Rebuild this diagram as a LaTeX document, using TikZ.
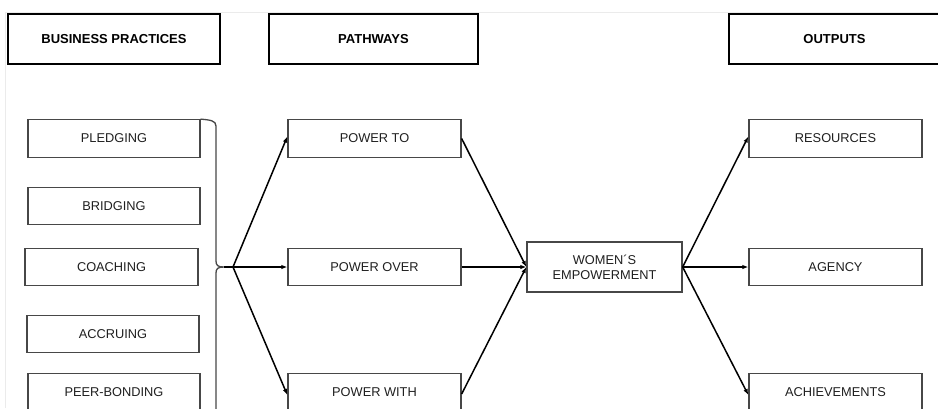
\documentclass[tikz,border=0pt]{standalone}
\usepackage{fontspec}
\setmainfont{Liberation Sans}
\usetikzlibrary{arrows.meta}
\begin{document}
\begin{tikzpicture}[x=1pt,y=-1pt,
  hdr/.style={draw=black,line width=1.8pt,minimum height=50pt,inner sep=0pt,
    font=\fontsize{13}{15}\selectfont\bfseries,text=black},
  box/.style={draw=black!72,line width=1.3pt,minimum width=173pt,minimum height=37.5pt,inner sep=0pt,
    font=\fontsize{12.8}{15}\selectfont,text=black!88},
  conn/.style={line width=1.5pt,black},
  arr/.style={conn,-{Latex[length=6pt,width=4.5pt]}},
  brace/.style={line width=1.3pt,black!72}]
\useasboundingbox (0,0) rectangle (938,408);
\clip (0,0) rectangle (938,408);
% faint frame
\draw[black!8,line width=0.8pt] (5,408) -- (5,12.5) -- (938,12.5);
% headers
\node[hdr,minimum width=212pt] (hbp) at (114,39) {BUSINESS PRACTICES};
\node[hdr,minimum width=209pt] (hpw) at (373.5,39) {PATHWAYS};
\node[hdr,minimum width=211pt] (hout) at (834.5,39) {OUTPUTS};
% business practices
\node[box,minimum width=172pt] (b1) at (114,138.5) {PLEDGING};
\node[box,minimum width=172pt] (b2) at (114,206) {BRIDGING};
\node[box] (b3) at (111.5,267) {COACHING};
\node[box,minimum width=172pt] (b4) at (113,334) {ACCRUING};
\node[box,minimum width=172pt] (b5) at (114,392) {PEER-BONDING};
% pathways
\node[box] (p1) at (374.5,138.5) {POWER TO};
\node[box] (p2) at (374.5,267) {POWER OVER};
\node[box] (p3) at (374.5,392) {POWER WITH};
% women's empowerment
\node[box,minimum width=155pt,minimum height=50pt,align=center] (we) at (604.5,267) {WOMEN´S\\EMPOWERMENT};
% outputs
\node[box] (o1) at (835.5,138.5) {RESOURCES};
\node[box] (o2) at (835.5,267) {AGENCY};
\node[box] (o3) at (835.5,392) {ACHIEVEMENTS};
% brace
\coordinate (tip) at (233,267);
\draw[brace] (b1.north east) .. controls (210,120) and (216,120.5) .. (216,126)
  -- (216,261) .. controls (216,265.5) and (218,267) .. (224,267)
  .. controls (218,267) and (216,268.5) .. (216,273) -- (216,420);
\draw[conn] (224,267) -- (tip);
% connectors
\draw[arr] (tip) -- ([yshift=2pt]p1.west);
\draw[arr] (tip) -- (p2.west);
\draw[arr] (tip) -- ([yshift=-3pt]p3.west);
\draw[arr] (p1.east) -- (we.west);
\draw[arr] (p2.east) -- (we.west);
\draw[arr] ([yshift=-2pt]p3.east) -- (we.west);
\draw[arr] (we.east) -- ([yshift=2pt]o1.west);
\draw[arr] (we.east) -- (o2.west);
\draw[arr] (we.east) -- ([yshift=-3pt]o3.west);
\end{tikzpicture}
\end{document}
